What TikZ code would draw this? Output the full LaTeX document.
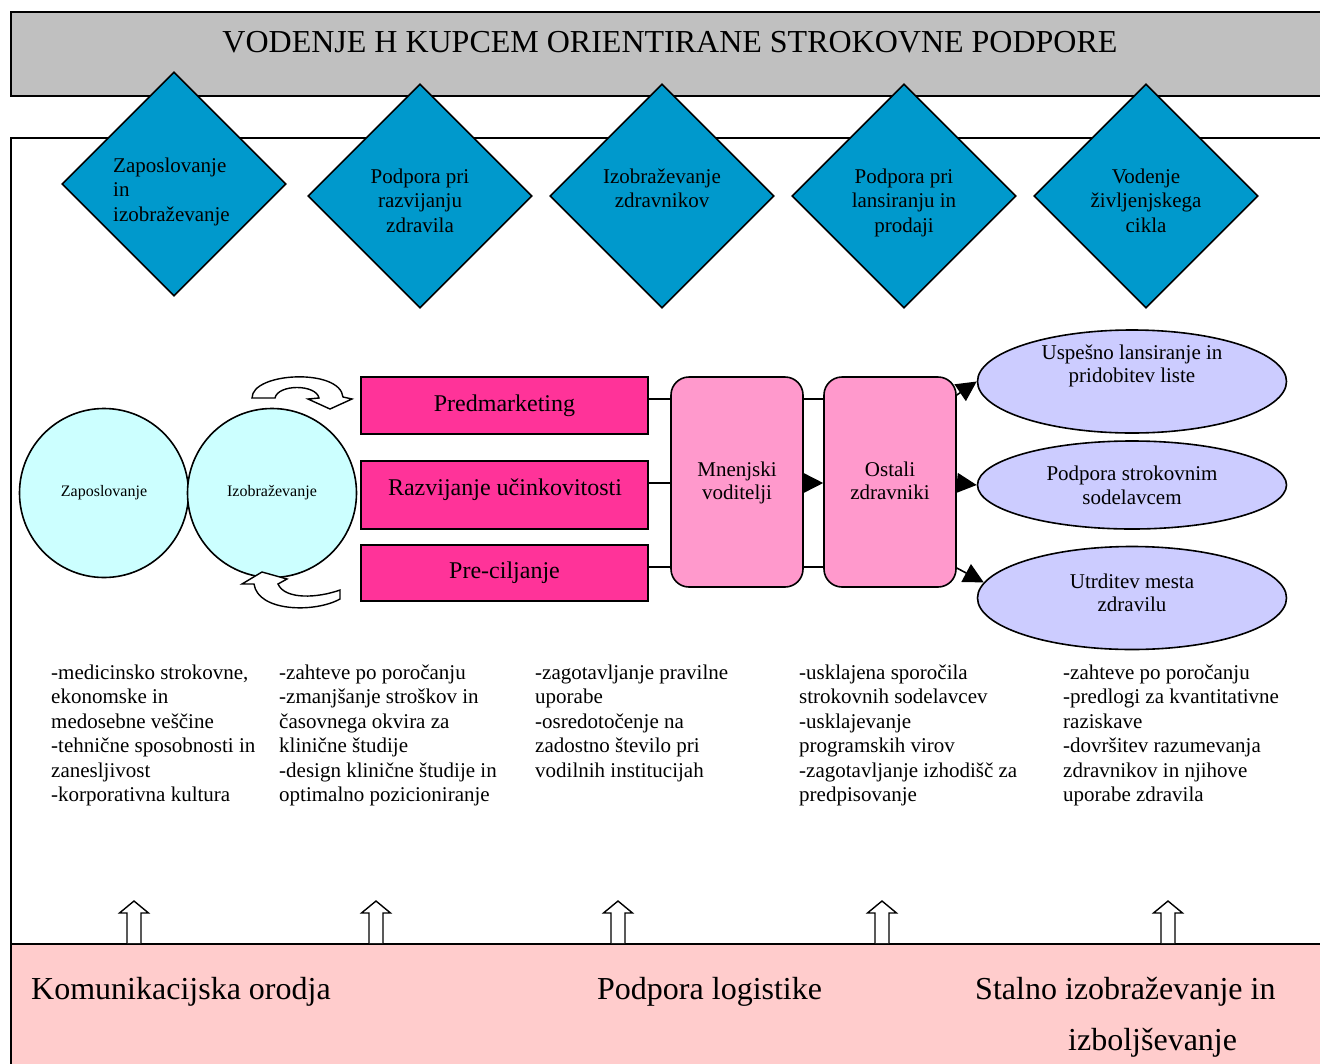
\documentclass[tikz,border=0pt]{standalone}
\usepackage{fontspec}
\setmainfont{Liberation Serif}
\usetikzlibrary{shapes.geometric,arrows.meta}
\definecolor{titlegray}{HTML}{C0C0C0}
\definecolor{diamblue}{HTML}{0099CC}
\definecolor{cyanlite}{HTML}{CCFFFF}
\definecolor{hotpink}{HTML}{FF3399}
\definecolor{softpink}{HTML}{FF99CC}
\definecolor{lavender}{HTML}{CCCCFF}
\definecolor{rosebg}{HTML}{FFCCCC}
% multi-line text blocks aligned on their first baseline
\newcommand{\txtl}[1]{\begin{tabular}[t]{@{}l@{}}#1\end{tabular}}
\newcommand{\txtc}[1]{\begin{tabular}[t]{@{}c@{}}#1\end{tabular}}
\begin{document}
\begin{tikzpicture}[x=1pt,y=-1pt,
  every node/.style={inner sep=0pt},
  outline/.style={draw=black,line width=1.6pt},
  body/.style={font=\fontsize{21}{24.5}\selectfont},
  tight/.style={font=\fontsize{21}{23.5}\selectfont},
  small/.style={font=\fontsize{16}{19}\selectfont},
  mid/.style={font=\fontsize{24}{28}\selectfont},
  big/.style={font=\fontsize{32}{38}\selectfont},
  tdiam/.style={outline,shape=diamond,fill=diamblue,minimum width=224pt,minimum height=224pt},
  circ/.style={outline,circle,fill=cyanlite,minimum size=169pt,small},
  pinkrect/.style={outline,rectangle,fill=hotpink,minimum width=287pt},
  softbox/.style={outline,rectangle,rounded corners=18pt,fill=softpink,minimum width=132pt,minimum height=210pt},
  goal/.style={outline,ellipse,fill=lavender,minimum width=309pt},
  conn/.style={draw=black,line width=1.6pt},
  arr/.style={conn,-{Triangle[length=20pt,width=20pt]}},
  block/.style={draw=black,line width=1.4pt,fill=white,line join=miter}
]
\useasboundingbox (0,0) rectangle (1320,1063);
\clip (0,0) rectangle (1320,1063);

% title bar
\node[outline,fill=titlegray,anchor=north west,minimum width=1340pt,minimum height=84pt] (titlebar) at (10,11) {};
\node[big,anchor=base] (titletext) at (670,52) {VODENJE H KUPCEM ORIENTIRANE STROKOVNE PODPORE};

% main frame
\node[outline,fill=white,anchor=north west,minimum width=1340pt,minimum height=960pt] (frame) at (10,137) {};

% five activity diamonds
\node[tdiam] (d1) at (174,184) {};
\node[tdiam] (d2) at (420,196) {};
\node[tdiam] (d3) at (662,196) {};
\node[tdiam] (d4) at (904,196) {};
\node[tdiam] (d5) at (1146,196) {};
\node[body,anchor=base west] (d1t) at (113,172) {\txtl{Zaposlovanje\\ in\\ izobraževanje}};
\node[body,anchor=base] (d2t) at (420,183) {\txtc{Podpora pri\\ razvijanju\\ zdravila}};
\node[body,anchor=base] (d3t) at (662,183) {\txtc{Izobraževanje\\ zdravnikov}};
\node[body,anchor=base] (d4t) at (904,183) {\txtc{Podpora pri\\ lansiranju in\\ prodaji}};
\node[body,anchor=base] (d5t) at (1146,183) {\txtc{Vodenje\\ življenjskega\\ cikla}};

% employment / education cycle
\node[circ] (c1) at (104,493) {Zaposlovanje};
\node[circ] (c2) at (272,493) {Izobraževanje};
\draw[block] (252,398) .. controls (252,372) and (340,368) .. (343,397)
  -- (352,399) -- (330,409) -- (308,399) -- (319,398)
  .. controls (316,384) and (278,384) .. (275,398) -- cycle;
\draw[block] (340,590) -- (340,599) .. controls (315,613) and (258,612) .. (254,584)
  -- (242,584) -- (262,572) -- (287,579) -- (278,584)
  .. controls (285,600) and (318,598) .. (340,590) -- cycle;

% activities
\node[pinkrect,mid,minimum height=57pt] (pm) at (504.5,405.5) {Predmarketing};
\node[pinkrect,minimum height=68pt] (rv) at (504.5,495) {};
\node[mid] (rvt) at (505,490) {Razvijanje učinkovitosti};
\node[pinkrect,mid,minimum height=56pt] (pc) at (504.5,573) {Pre-ciljanje};

\node[softbox] (mv) at (737,482) {};
\node[softbox] (oz) at (890,482) {};
\node[tight,anchor=base] (mvt) at (737,476) {\txtc{Mnenjski\\ voditelji}};
\node[tight,anchor=base] (ozt) at (890,476) {\txtc{Ostali\\ zdravniki}};

\coordinate (ya) at (0,399);
\coordinate (yb) at (0,483);
\coordinate (yc) at (0,567);
\coordinate (ye1) at (0,395);
\coordinate (ye3) at (0,568);
\draw[conn] (pm.east |- ya) -- (mv.west |- ya);
\draw[conn] (rv.east |- yb) -- (mv.west |- yb);
\draw[conn] (pc.east |- yc) -- (mv.west |- yc);
\draw[conn] (mv.east |- ya) -- (oz.west |- ya);
\draw[arr] (mv.east |- yb) -- (oz.west |- yb);
\draw[conn] (mv.east |- yc) -- (oz.west |- yc);

% outcomes
\node[goal,minimum height=103pt] (e1) at (1132,381.5) {};
\node[goal,minimum height=88pt] (e2) at (1132,485) {};
\node[goal,minimum height=103pt] (e3) at (1132,598) {};
\node[tight,anchor=base] (e1t) at (1132,359) {\txtc{Uspešno lansiranje in\\ pridobitev liste}};
\node[body,anchor=base] (e2t) at (1132,480) {\txtc{Podpora strokovnim\\ sodelavcem}};
\node[tight,anchor=base] (e3t) at (1132,588) {\txtc{Utrditev mesta\\ zdravilu}};
\draw[arr] (oz.east |- ye1) -- (e1.west);
\draw[arr] (oz.east |- yb) -- (e2.west);
\draw[arr] (oz.east |- ye3) -- (e3.174);

% descriptions under each activity
\node[body,anchor=base west] (t1) at (51,679) {\txtl{-medicinsko strokovne,\\ ekonomske in\\ medosebne veščine\\ -tehnične sposobnosti in\\ zanesljivost\\ -korporativna kultura}};
\node[body,anchor=base west] (t2) at (279,679) {\txtl{-zahteve po poročanju\\ -zmanjšanje stroškov in\\ časovnega okvira za\\ klinične študije\\ -design klinične študije in\\ optimalno pozicioniranje}};
\node[body,anchor=base west] (t3) at (535,679) {\txtl{-zagotavljanje pravilne\\ uporabe\\ -osredotočenje na\\ zadostno število pri\\ vodilnih institucijah}};
\node[body,anchor=base west] (t4) at (799,679) {\txtl{-usklajena sporočila\\ strokovnih sodelavcev\\ -usklajevanje\\ programskih virov\\ -zagotavljanje izhodišč za\\ predpisovanje}};
\node[body,anchor=base west] (t5) at (1063,679) {\txtl{-zahteve po poročanju\\ -predlogi za kvantitativne\\ raziskave\\ -dovršitev razumevanja\\ zdravnikov in njihove\\ uporabe zdravila}};

% supporting base
\node[outline,fill=rosebg,anchor=north west,minimum width=1340pt,minimum height=150pt] (basebar) at (10,943) {};
\foreach \ax in {134,376,618,882,1168}
  \draw[block] (\ax-7,943) -- (\ax-7,913) -- (\ax-14.5,913) -- (\ax,901)
    -- (\ax+14.5,913) -- (\ax+7,913) -- (\ax+7,943);
\node[big,anchor=base west] (b1) at (31,999) {Komunikacijska orodja};
\node[big,anchor=base west] (b2) at (597,999) {Podpora logistike};
\node[big,anchor=base west] (b3) at (975,999) {Stalno izobraževanje in};
\node[big,anchor=base west] (b4) at (1068,1050) {izboljševanje};
\end{tikzpicture}
\end{document}
